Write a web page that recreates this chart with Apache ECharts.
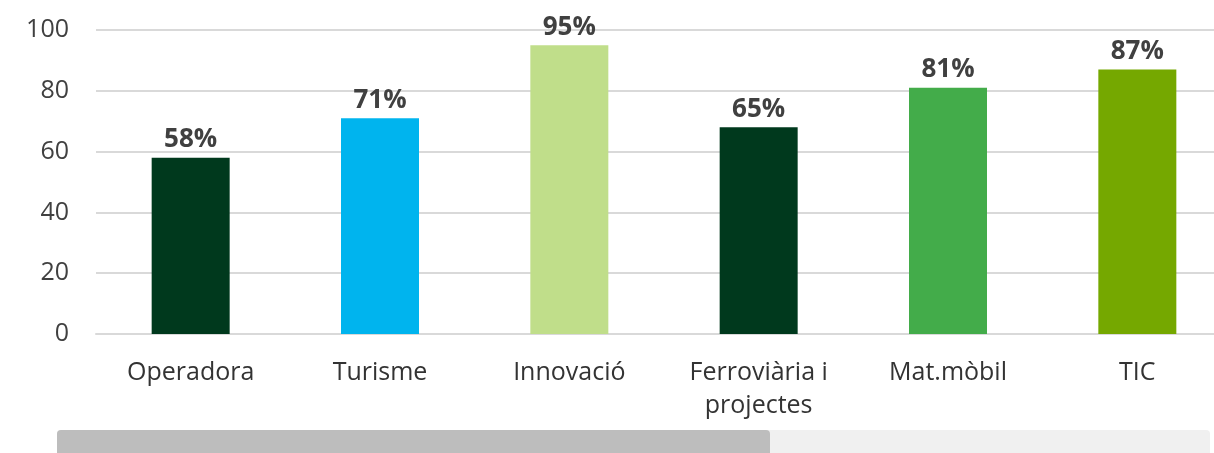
<!DOCTYPE html>
<html>
<head>
<meta charset="utf-8">
<script src="https://cdn.jsdelivr.net/npm/echarts@6/dist/echarts.min.js"></script>
<style>
  html, body { margin: 0; padding: 0; background: #fff; }
  #main { width: 1214px; height: 453px; }
</style>
</head>
<body>
<div id="main"></div>
<script>
var categories = ['Operadora', 'Turisme', 'Innovació', 'Ferroviària i\nprojectes', 'Mat.mòbil', 'TIC'];
var values = [58, 71, 95, 68, 81, 87];
var valueLabels = ['58%', '71%', '95%', '65%', '81%', '87%'];
var barColors = ['#00391d', '#00b4ee', '#c0de8a', '#00391d', '#43ac4a', '#75a800'];
var yTicks = [0, 20, 40, 60, 80, 100];

var font = '"Open Sans", "Noto Sans", sans-serif';

var data = [];
for (var i = 0; i < values.length; i++) {
    data.push({
        value: values[i],
        itemStyle: { color: barColors[i] },
        label: { formatter: valueLabels[i] }
    });
}

var option = {
    animation: false,
    grid: {
        left: 96,
        top: 30,
        right: -18,
        height: 304,
        outerBoundsMode: 'none'
    },
    xAxis: {
        type: 'category',
        data: categories,
        axisLine: { show: true, lineStyle: { color: '#d9d9d9', width: 2 } },
        axisTick: { show: false },
        axisLabel: {
            color: '#333',
            fontFamily: font,
            fontSize: 25,
            lineHeight: 33,
            margin: 22
        }
    },
    yAxis: {
        type: 'value',
        min: yTicks[0],
        max: yTicks[yTicks.length - 1],
        interval: 20,
        axisLine: { show: false },
        axisTick: { show: false },
        splitLine: { lineStyle: { color: '#d9d9d9', width: 2 } },
        axisLabel: {
            color: '#404040',
            fontFamily: font,
            fontSize: 25,
            margin: 27
        }
    },
    series: [{
        type: 'bar',
        data: data,
        barWidth: 78,
        label: {
            show: true,
            position: 'top',
            distance: 5,
            color: '#404040',
            fontFamily: font,
            fontWeight: 'bold',
            fontSize: 26
        }
    }],
    graphic: [
        {
            type: 'rect',
            left: 57,
            top: 430,
            shape: { width: 1153, height: 26, r: 4 },
            style: { fill: '#f0f0f0' },
            silent: true
        },
        {
            type: 'rect',
            left: 57,
            top: 430,
            shape: { width: 713, height: 26, r: 4 },
            style: { fill: '#bdbdbd' },
            silent: true
        }
    ]
};

var chart = echarts.init(document.getElementById('main'));
chart.setOption(option);
</script>
</body>
</html>
